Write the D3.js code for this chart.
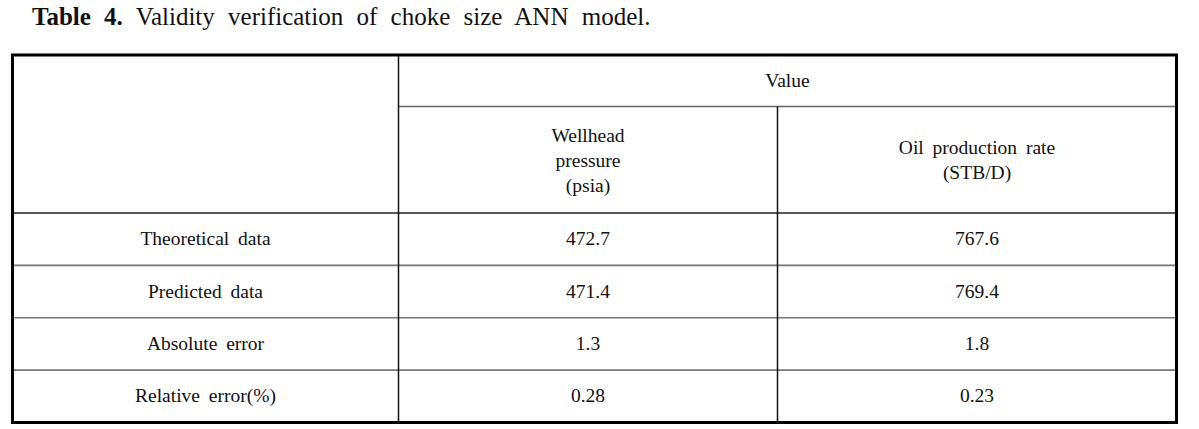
<!DOCTYPE html>
<html>
<head>
<meta charset="utf-8">
<script src="https://cdn.jsdelivr.net/npm/d3@7"></script>
<style>
  body { margin: 0; background: #fff; }
  svg text { font-family: "Liberation Serif", "Times New Roman", serif; fill: #111; }
</style>
</head>
<body>
<svg id="table4"></svg>
<script>
// Data
var rowLabels = ["Theoretical data", "Predicted data", "Absolute error", "Relative error(%)"];
var wellheadPressure = ["472.7", "471.4", "1.3", "0.28"];
var oilRate = ["767.6", "769.4", "1.8", "0.23"];
var groupHeader = "Value";
var colHeaders = [["Wellhead", "pressure", "(psia)"], ["Oil production rate", "(STB/D)"]];

var width1 = 1199, height1 = 429;
var svg = d3.select("#table4").attr("width", width1).attr("height", height1);

// Title
var title = svg.append("text")
    .attr("x", 32)
    .attr("y", 25)
    .style("font-size", "25px")
    .style("word-spacing", "7px");
title.append("tspan").style("font-weight", "bold").text("Table 4.");
title.append("tspan").text(" Validity verification of choke size ANN model.");

// layout
var leftX = 12.5, rightX = 1176.5, topY = 55, bottomY = 422.5;
var col1 = 398.5, col2 = 777.5;
var headMid = 106.5, headBottom = 213;
var fs = "19.5px";

var x = d3.scaleOrdinal()
    .domain(["label", "pressure", "oil"])
    .range([(leftX + col1) / 2, (col1 + col2) / 2, (col2 + rightX) / 2]);

var y = d3.scaleBand()
    .domain(rowLabels)
    .range([headBottom, bottomY]);

// rows
var tableData = rowLabels.map((d, i) => ({label: d, pressure: wellheadPressure[i], oil: oilRate[i]}));

// row separators
svg.append("g").selectAll("line")
    .data(rowLabels.slice(1))
    .join("line")
    .attr("x1", leftX).attr("x2", rightX)
    .attr("y1", d => y(d)).attr("y2", d => y(d))
    .attr("stroke", "#777")
    .attr("stroke-width", 1.6);

// header lines
svg.append("line")
    .attr("x1", col1).attr("x2", rightX)
    .attr("y1", headMid).attr("y2", headMid)
    .attr("stroke", "#666").attr("stroke-width", 1.4);
svg.append("line")
    .attr("x1", leftX).attr("x2", rightX)
    .attr("y1", headBottom).attr("y2", headBottom)
    .attr("stroke", "#222").attr("stroke-width", 1.4);

// vertical lines
svg.append("line")
    .attr("x1", col1).attr("x2", col1)
    .attr("y1", topY).attr("y2", bottomY)
    .attr("stroke", "#111").attr("stroke-width", 1.5);
svg.append("line")
    .attr("x1", col2).attr("x2", col2)
    .attr("y1", headMid).attr("y2", bottomY)
    .attr("stroke", "#111").attr("stroke-width", 1.5);

// outer border
svg.append("rect")
    .attr("x", leftX).attr("y", topY)
    .attr("width", rightX - leftX).attr("height", bottomY - topY)
    .attr("fill", "none")
    .attr("stroke", "#000")
    .attr("stroke-width", 3);

// header text
svg.append("text")
    .attr("x", (col1 + rightX) / 2)
    .attr("y", (topY + headMid) / 2 + 6)
    .attr("text-anchor", "middle")
    .style("font-size", fs)
    .text(groupHeader);

var lineH = 25;
["pressure", "oil"].forEach((k, j) => {
    var lines = colHeaders[j];
    var cy = (headMid + headBottom) / 2;
    var t = svg.append("text")
        .attr("text-anchor", "middle")
        .style("font-size", fs)
        .style("word-spacing", "4px");
    t.selectAll("tspan")
        .data(lines)
        .join("tspan")
        .attr("x", x(k))
        .attr("y", (d, i) => cy + 7 + (i - (lines.length - 1) / 2) * lineH)
        .text(d => d);
});

// body cells
var rows = svg.append("g").selectAll("g")
    .data(tableData)
    .join("g")
    .attr("transform", d => "translate(0," + (y(d.label) + y.bandwidth() / 2 + 6) + ")");

["label", "pressure", "oil"].forEach(k => {
    rows.append("text")
        .attr("x", x(k))
        .attr("text-anchor", "middle")
        .style("font-size", fs)
        .style("word-spacing", "4px")
        .text(d => d[k]);
});
</script>
</body>
</html>
